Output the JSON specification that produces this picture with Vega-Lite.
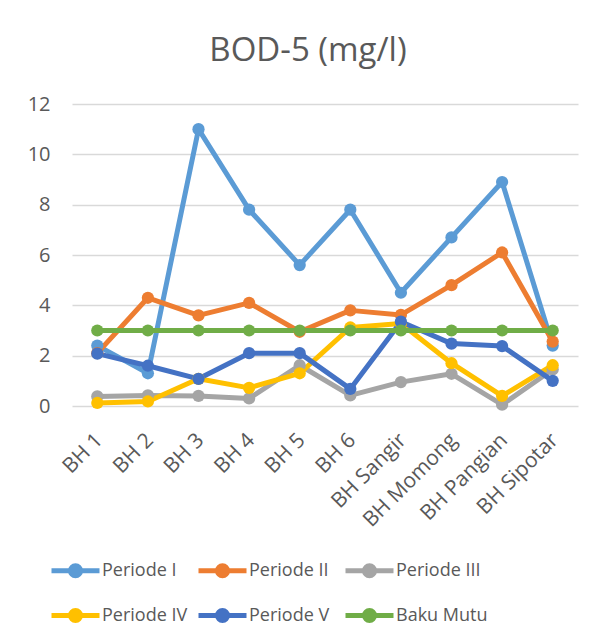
{
  "$schema": "https://vega.github.io/schema/vega-lite/v6.json",
  "width": 506,
  "height": 302,
  "autosize": {"type": "none"},
  "padding": {"left": 72, "top": 104, "right": 24, "bottom": 236},
  "background": "white",
  "title": {
    "text": "BOD-5 (mg/l)",
    "font": "Open Sans",
    "fontSize": 33,
    "fontWeight": "normal",
    "color": "#595959",
    "anchor": "middle",
    "baseline": "alphabetic",
    "offset": 0,
    "dx": -17
  },
  "config": {
    "view": {"stroke": null},
    "font": "Open Sans"
  },
  "data": {
    "values": [
      {"site": "BH 1", "series": "Periode I", "value": 2.4},
      {"site": "BH 2", "series": "Periode I", "value": 1.3},
      {"site": "BH 3", "series": "Periode I", "value": 11.0},
      {"site": "BH 4", "series": "Periode I", "value": 7.8},
      {"site": "BH 5", "series": "Periode I", "value": 5.6},
      {"site": "BH 6", "series": "Periode I", "value": 7.8},
      {"site": "BH Sangir", "series": "Periode I", "value": 4.5},
      {"site": "BH Momong", "series": "Periode I", "value": 6.7},
      {"site": "BH Pangian", "series": "Periode I", "value": 8.9},
      {"site": "BH Sipotar", "series": "Periode I", "value": 2.4},
      {"site": "BH 1", "series": "Periode II", "value": 2.1},
      {"site": "BH 2", "series": "Periode II", "value": 4.3},
      {"site": "BH 3", "series": "Periode II", "value": 3.6},
      {"site": "BH 4", "series": "Periode II", "value": 4.1},
      {"site": "BH 5", "series": "Periode II", "value": 2.95},
      {"site": "BH 6", "series": "Periode II", "value": 3.8},
      {"site": "BH Sangir", "series": "Periode II", "value": 3.62},
      {"site": "BH Momong", "series": "Periode II", "value": 4.8},
      {"site": "BH Pangian", "series": "Periode II", "value": 6.1},
      {"site": "BH Sipotar", "series": "Periode II", "value": 2.56},
      {"site": "BH 1", "series": "Periode III", "value": 0.38},
      {"site": "BH 2", "series": "Periode III", "value": 0.42},
      {"site": "BH 3", "series": "Periode III", "value": 0.4},
      {"site": "BH 4", "series": "Periode III", "value": 0.3},
      {"site": "BH 5", "series": "Periode III", "value": 1.62},
      {"site": "BH 6", "series": "Periode III", "value": 0.42},
      {"site": "BH Sangir", "series": "Periode III", "value": 0.95},
      {"site": "BH Momong", "series": "Periode III", "value": 1.28},
      {"site": "BH Pangian", "series": "Periode III", "value": 0.05},
      {"site": "BH Sipotar", "series": "Periode III", "value": 1.45},
      {"site": "BH 1", "series": "Periode IV", "value": 0.12},
      {"site": "BH 2", "series": "Periode IV", "value": 0.18},
      {"site": "BH 3", "series": "Periode IV", "value": 1.08},
      {"site": "BH 4", "series": "Periode IV", "value": 0.72},
      {"site": "BH 5", "series": "Periode IV", "value": 1.3},
      {"site": "BH 6", "series": "Periode IV", "value": 3.12},
      {"site": "BH Sangir", "series": "Periode IV", "value": 3.28},
      {"site": "BH Momong", "series": "Periode IV", "value": 1.7},
      {"site": "BH Pangian", "series": "Periode IV", "value": 0.4},
      {"site": "BH Sipotar", "series": "Periode IV", "value": 1.62},
      {"site": "BH 1", "series": "Periode V", "value": 2.08},
      {"site": "BH 2", "series": "Periode V", "value": 1.6},
      {"site": "BH 3", "series": "Periode V", "value": 1.08},
      {"site": "BH 4", "series": "Periode V", "value": 2.1},
      {"site": "BH 5", "series": "Periode V", "value": 2.1},
      {"site": "BH 6", "series": "Periode V", "value": 0.68},
      {"site": "BH Sangir", "series": "Periode V", "value": 3.35},
      {"site": "BH Momong", "series": "Periode V", "value": 2.48},
      {"site": "BH Pangian", "series": "Periode V", "value": 2.38},
      {"site": "BH Sipotar", "series": "Periode V", "value": 1.0},
      {"site": "BH 1", "series": "Baku Mutu", "value": 3},
      {"site": "BH 2", "series": "Baku Mutu", "value": 3},
      {"site": "BH 3", "series": "Baku Mutu", "value": 3},
      {"site": "BH 4", "series": "Baku Mutu", "value": 3},
      {"site": "BH 5", "series": "Baku Mutu", "value": 3},
      {"site": "BH 6", "series": "Baku Mutu", "value": 3},
      {"site": "BH Sangir", "series": "Baku Mutu", "value": 3},
      {"site": "BH Momong", "series": "Baku Mutu", "value": 3},
      {"site": "BH Pangian", "series": "Baku Mutu", "value": 3},
      {"site": "BH Sipotar", "series": "Baku Mutu", "value": 3}
    ]
  },
  "encoding": {
    "x": {
      "field": "site",
      "type": "nominal",
      "sort": null,
      "scale": {"type": "point", "padding": 0.5},
      "axis": {
        "title": null,
        "labelAngle": -45,
        "labelAlign": "right",
        "labelBaseline": "top",
        "labelPadding": 23,
        "labelOffset": -6,
        "labelFontSize": 21,
        "labelColor": "#595959",
        "labelFont": "Open Sans",
        "domain": false,
        "ticks": false,
        "grid": false
      }
    },
    "y": {
      "field": "value",
      "type": "quantitative",
      "scale": {"domain": [0, 12], "nice": false},
      "axis": {
        "title": null,
        "values": [0, 2, 4, 6, 8, 10, 12],
        "labelFontSize": 20,
        "labelColor": "#595959",
        "labelFont": "Open Sans",
        "labelPadding": 22,
        "domain": false,
        "ticks": false,
        "grid": true,
        "gridColor": "#D9D9D9",
        "gridWidth": 1.5
      }
    },
    "color": {
      "field": "series",
      "type": "nominal",
      "sort": ["Periode I", "Periode II", "Periode III", "Periode IV", "Periode V", "Baku Mutu"],
      "scale": {
        "domain": ["Periode I", "Periode II", "Periode III", "Periode IV", "Periode V", "Baku Mutu"],
        "range": ["#5B9BD5", "#ED7D31", "#A5A5A5", "#FFC000", "#4472C4", "#70AD47"]
      },
      "legend": {
        "title": null,
        "orient": "none",
        "legendX": -23,
        "legendY": 440,
        "direction": "horizontal",
        "columns": 3,
        "gridAlign": "all",
        "columnPadding": -6,
        "rowPadding": 3,
        "padding": 0,
        "labelFont": "Open Sans",
        "labelFontSize": 18,
        "labelColor": "#595959",
        "labelOffset": 0,
        "symbolType": "M -1 0 L 1 0 M -0.21 0 A 0.21 0.21 0 1 1 0.21 0 A 0.21 0.21 0 1 1 -0.21 0 Z",
        "symbolSize": 2304,
        "symbolStrokeWidth": 5,
        "encode": {
          "symbols": {
            "update": {
              "fill": {"scale": "color", "field": "value"},
              "stroke": {"scale": "color", "field": "value"},
              "opacity": {"value": 1}
            }
          }
        }
      }
    }
  },
  "layer": [
    {
      "mark": {"type": "line", "strokeWidth": 5, "strokeCap": "round", "strokeJoin": "round"}
    },
    {
      "mark": {"type": "point", "filled": true, "size": 150, "opacity": 1}
    }
  ]
}
